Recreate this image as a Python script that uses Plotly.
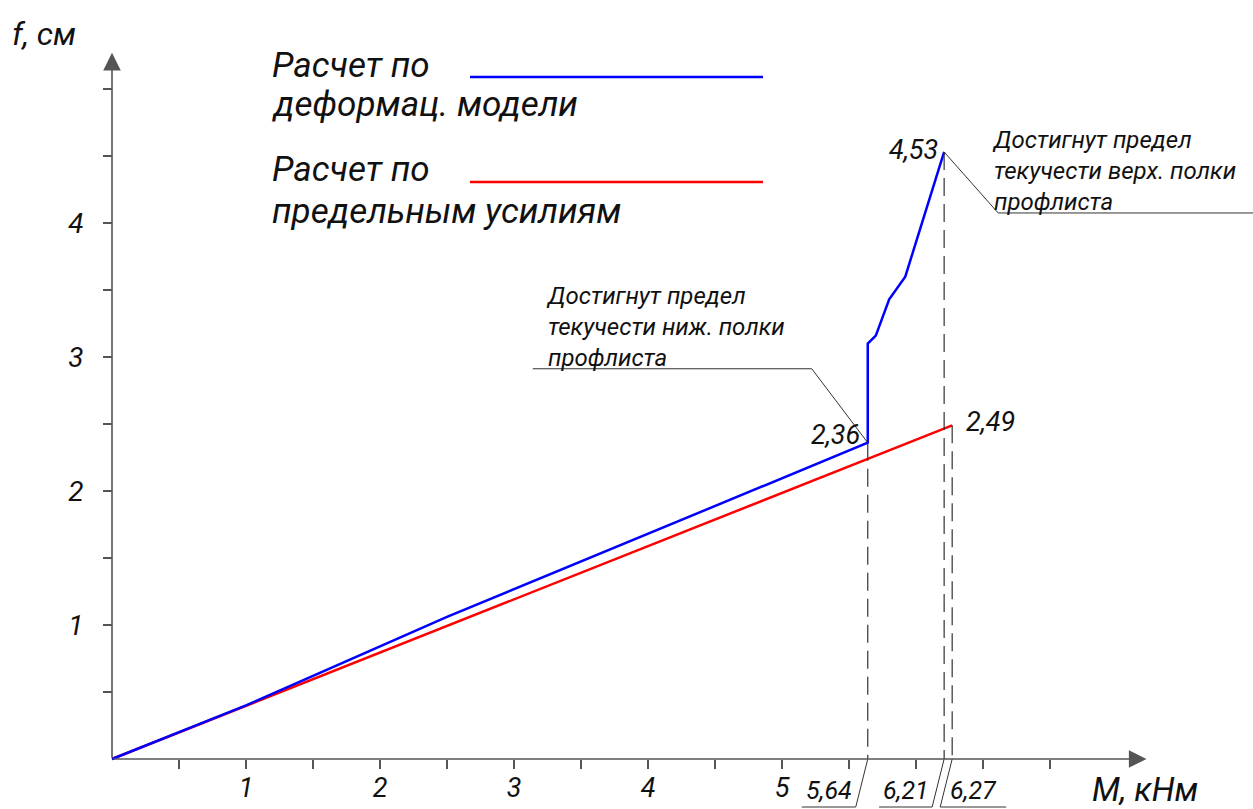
import plotly.graph_objects as go

# Deflection f (cm) versus bending moment M (kN*m)
M_def = [0, 1.0, 2.5, 5.64, 5.64, 5.70, 5.80, 5.92, 6.21]
f_def = [0, 0.40, 1.06, 2.36, 3.10, 3.16, 3.43, 3.60, 4.53]
M_lim = [0, 6.27]
f_lim = [0, 2.49]

x_ticks = [0.5, 1, 1.5, 2, 2.5, 3, 3.5, 4, 4.5, 5, 5.5, 6, 6.5, 7]
x_labels = ["", "1", "", "2", "", "3", "", "4", "", "5", "", "", "", ""]
y_ticks = [0.5, 1, 1.5, 2, 2.5, 3, 3.5, 4, 4.5, 5]
y_labels = ["", "1", "", "2", "", "3", "", "4", "", ""]

legend_def = ["Расчет по", "деформац. модели"]
legend_lim = ["Расчет по", "предельным усилиям"]
note_low = "Достигнут предел<br>текучести ниж. полки<br>профлиста"
note_top = "Достигнут предел<br>текучести верх. полки<br>профлиста"
x_title = "M, кНм"
y_title = "f, см"

W, H = 1253, 809
X0, Y0 = 112, 759      # pixel position of the origin
S = 134.0              # pixels per unit on both axes

FONT = "Roboto, Liberation Sans, sans-serif"
INK = "#111111"
AXIS = "#555555"


def d(px):
    return px / S


def fnt(size, color=INK):
    return dict(family=FONT, size=size, color=color, style="italic")


def comma(v):
    return f"{v:.2f}".replace(".", ",")


fig = go.Figure()
fig.add_trace(go.Scatter(x=M_lim, y=f_lim, mode="lines",
                         line=dict(color="#ff0000", width=2.5), hoverinfo="skip"))
fig.add_trace(go.Scatter(x=M_def, y=f_def, mode="lines",
                         line=dict(color="#0000ff", width=2.5), hoverinfo="skip"))

shapes = []
annotations = []

# axes with arrows
annotations.append(dict(x=7.72, y=0, ax=0, ay=0, xref="x", yref="y", axref="x", ayref="y",
                        text="", showarrow=True, arrowhead=2, arrowsize=2.2, arrowwidth=1.6,
                        arrowcolor=AXIS, standoff=0))
annotations.append(dict(x=0, y=5.27, ax=0, ay=0, xref="x", yref="y", axref="x", ayref="y",
                        text="", showarrow=True, arrowhead=2, arrowsize=2.2, arrowwidth=1.6,
                        arrowcolor=AXIS, standoff=0))

# key points: blue kink, blue peak, red end
M_kink, f_kink = M_def[3], f_def[3]
M_peak, f_peak = M_def[-1], f_def[-1]
M_end, f_end = M_lim[-1], f_lim[-1]

thin = dict(color="#333333", width=1)
dash = dict(color="#333333", width=1.2, dash="18px,8px")

for mv, fv in [(M_kink, f_kink), (M_peak, f_peak), (M_end, f_end)]:
    shapes.append(dict(type="line", xref="x", yref="y", x0=mv, y0=fv, x1=mv, y1=0, line=dash))

# dimension labels below the axis
for mv, side, ln in [(M_kink, -1, 54), (M_peak, -1, 53), (M_end, 1, 66)]:
    bx, by = mv - d(12), -d(48)
    shapes.append(dict(type="line", xref="x", yref="y", x0=mv, y0=0, x1=bx, y1=by, line=thin))
    if side < 0:
        shapes.append(dict(type="line", xref="x", yref="y", x0=bx, y0=by, x1=bx - d(ln), y1=by, line=thin))
        cx = bx - d(ln) / 2
    else:
        shapes.append(dict(type="line", xref="x", yref="y", x0=bx, y0=by, x1=bx + d(ln), y1=by, line=thin))
        cx = bx + d(ln) / 2
    annotations.append(dict(x=cx, y=by, xref="x", yref="y", text=comma(mv), showarrow=False,
                            xanchor="center", yanchor="bottom", yshift=0, font=fnt(25)))

# value labels at the points
annotations.append(dict(x=M_kink, y=f_kink, xref="x", yref="y", text=comma(f_kink), showarrow=False,
                        xanchor="right", yanchor="middle", xshift=-6, yshift=8, font=fnt(27)))
annotations.append(dict(x=M_peak, y=f_peak, xref="x", yref="y", text=comma(f_peak), showarrow=False,
                        xanchor="right", yanchor="middle", xshift=-4, yshift=2, font=fnt(27)))
annotations.append(dict(x=M_end, y=f_end, xref="x", yref="y", text=comma(f_end), showarrow=False,
                        xanchor="left", yanchor="middle", xshift=12, yshift=3, font=fnt(27)))

# leader to the lower-flange note
ex, ey = M_kink - d(56), f_kink + d(74)
shapes.append(dict(type="line", xref="x", yref="y", x0=M_kink, y0=f_kink, x1=ex, y1=ey, line=thin))
shapes.append(dict(type="line", xref="x", yref="y", x0=ex, y0=ey, x1=ex - d(279), y1=ey, line=thin))
annotations.append(dict(x=ex - d(268), y=ey, xref="x", yref="y", text=note_low, showarrow=False,
                        xanchor="left", yanchor="bottom", align="left", yshift=-5, font=fnt(24)))

# leader to the upper-flange note
ex2, ey2 = M_peak + d(54), f_peak - d(61)
shapes.append(dict(type="line", xref="x", yref="y", x0=M_peak, y0=f_peak, x1=ex2, y1=ey2, line=thin))
shapes.append(dict(type="line", xref="x", yref="y", x0=ex2, y0=ey2, x1=ex2 + d(260), y1=ey2, line=thin))
annotations.append(dict(x=ex2 - d(8), y=ey2, xref="x", yref="y", text=note_top, showarrow=False,
                        xanchor="left", yanchor="bottom", align="left", yshift=-5, font=fnt(24)))

# legend block
for i, t in enumerate(legend_def):
    annotations.append(dict(x=270 / W, y=1 - (65 + 40 * i) / H, xref="paper", yref="paper", text=t,
                            showarrow=False, xanchor="left", yanchor="middle", font=fnt(35)))
for i, t in enumerate(legend_lim):
    annotations.append(dict(x=270 / W, y=1 - (170 + 42 * i) / H, xref="paper", yref="paper", text=t,
                            showarrow=False, xanchor="left", yanchor="middle", font=fnt(35)))
shapes.append(dict(type="line", xref="paper", yref="paper", x0=470 / W, x1=763 / W,
                   y0=1 - 77 / H, y1=1 - 77 / H, line=dict(color="#0000ff", width=2.5)))
shapes.append(dict(type="line", xref="paper", yref="paper", x0=470 / W, x1=763 / W,
                   y0=1 - 182 / H, y1=1 - 182 / H, line=dict(color="#ff0000", width=2.5)))

# axis titles
annotations.append(dict(x=10 / W, y=1 - 34 / H, xref="paper", yref="paper", text=y_title,
                        showarrow=False, xanchor="left", yanchor="middle", font=fnt(32)))
annotations.append(dict(x=1090 / W, y=1 - 789 / H, xref="paper", yref="paper", text=x_title,
                        showarrow=False, xanchor="left", yanchor="middle", font=fnt(33)))

fig.update_layout(
    template="none",
    width=W, height=H,
    margin=dict(l=0, r=0, t=0, b=0, pad=0),
    paper_bgcolor="white", plot_bgcolor="white",
    showlegend=False,
    shapes=shapes, annotations=annotations,
    xaxis=dict(range=[-X0 / S, (W - X0) / S], anchor="free", position=(H - Y0) / H,
               automargin=False, showgrid=False, zeroline=False, showline=False,
               tickmode="array", tickvals=x_ticks, ticktext=x_labels,
               ticks="outside", ticklen=9, tickwidth=1.5, tickcolor=AXIS,
               ticklabelstandoff=-4, tickfont=fnt(27), fixedrange=True),
    yaxis=dict(range=[-(H - Y0) / S, Y0 / S], anchor="free", position=X0 / W,
               automargin=False, showgrid=False, zeroline=False, showline=False,
               tickmode="array", tickvals=y_ticks, ticktext=y_labels,
               ticks="outside", ticklen=9, tickwidth=1.5, tickcolor=AXIS,
               ticklabelstandoff=14, tickfont=fnt(28), fixedrange=True),
)

fig.write_html("out.html", config={"displayModeBar": False})
